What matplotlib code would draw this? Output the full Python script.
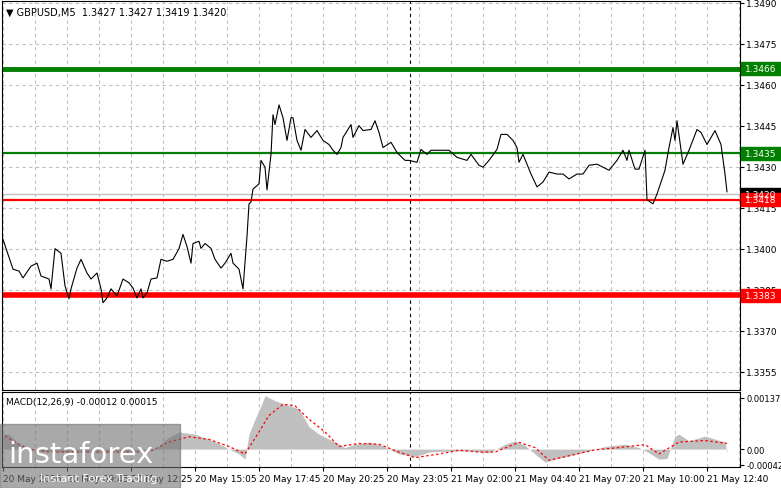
import matplotlib
matplotlib.use("Agg")
import matplotlib.pyplot as plt
from matplotlib.patches import Rectangle

# price line (bar index, close)
bars = [0, 2, 5, 8, 10, 14, 17, 19, 23, 24, 26, 29, 31, 33, 34, 37, 39, 42, 44, 47,
        49, 50, 52, 54, 57, 60, 63, 65, 67, 69, 70, 72, 74, 77, 79, 82, 85, 88, 90, 92,
        94, 95, 98, 99, 101, 104, 106, 109, 111, 114, 115, 118, 120, 122, 123, 124, 125, 128, 129, 131,
        132, 134, 135, 136, 138, 140, 142, 144, 145, 147, 149, 151, 154, 157, 160, 163, 165, 167, 169, 170,
        174, 175, 178, 180, 184, 186, 188, 190, 194, 197, 201, 203, 207, 209, 212, 214, 218, 223, 227, 232,
        234, 238, 240, 243, 247, 249, 252, 255, 257, 258, 260, 262, 264, 267, 270, 273, 277, 280, 283, 287,
        290, 293, 297, 300, 303, 307, 310, 312, 313, 316, 318, 321, 322, 325, 327, 331, 333, 335, 336, 337,
        340, 343, 347, 349, 352, 356, 359, 361, 362]
prices = [1.34035, 1.33991, 1.33926, 1.33919, 1.33894, 1.33937, 1.33948, 1.33901, 1.33890, 1.33854,
          1.34001, 1.33984, 1.33865, 1.33818, 1.33854, 1.33930, 1.33962, 1.33912, 1.33890, 1.33912,
          1.33854, 1.33803, 1.33821, 1.33854, 1.33828, 1.33890, 1.33876, 1.33857, 1.33821, 1.33854,
          1.33821, 1.33839, 1.33890, 1.33894, 1.33962, 1.33955, 1.33962, 1.34001, 1.34053, 1.34009,
          1.33948, 1.34020, 1.34028, 1.34002, 1.34020, 1.34002, 1.33962, 1.33930, 1.33948, 1.33984,
          1.33948, 1.33926, 1.33854, 1.34046, 1.34165, 1.34172, 1.34219, 1.34238, 1.34324, 1.34299,
          1.34216, 1.34346, 1.34491, 1.34455, 1.34527, 1.34480, 1.34397, 1.34480, 1.34480, 1.34397,
          1.34361, 1.34437, 1.34408, 1.34433, 1.34397, 1.34382, 1.34361, 1.34346, 1.34371, 1.34408,
          1.34455, 1.34408, 1.34451, 1.34433, 1.34437, 1.34469, 1.34426, 1.34371, 1.34390, 1.34353,
          1.34324, 1.34324, 1.34317, 1.34364, 1.34346, 1.34361, 1.34361, 1.34361, 1.34335, 1.34324,
          1.34346, 1.34306, 1.34299, 1.34324, 1.34364, 1.34419, 1.34419, 1.34397, 1.34371, 1.34317,
          1.34346, 1.34310, 1.34274, 1.34227, 1.34245, 1.34281, 1.34274, 1.34274, 1.34256, 1.34274,
          1.34274, 1.34306, 1.34310, 1.34299, 1.34288, 1.34324, 1.34361, 1.34324, 1.34361, 1.34292,
          1.34292, 1.34361, 1.34180, 1.34165, 1.34201, 1.34288, 1.34371, 1.34444, 1.34397, 1.34469,
          1.34310, 1.34361, 1.34437, 1.34426, 1.34382, 1.34433, 1.34382, 1.34274, 1.34209]

levels = [1.3466, 1.3435, 1.3418, 1.3383]
level_colors = ["#007f00", "#007f00", "#ff0000", "#ff0000"]
level_widths = [3.5, 1.6, 1.6, 4]
current_price = 1.3420

price_ticks = [1.3490, 1.3475, 1.3460, 1.3445, 1.3430, 1.3415, 1.3400, 1.3385, 1.3370, 1.3355]

hist_bars = [0, 3, 8, 13, 18, 38, 58, 76, 81, 88, 96, 106, 113, 118, 121, 123, 126, 129, 131, 136,
             141, 148, 153, 158, 166, 171, 176, 183, 188, 193, 198, 206, 213, 223, 233, 243, 251, 256, 261, 266,
             271, 276, 283, 293, 301, 311, 318, 323, 328, 332, 336, 338, 343, 351, 359, 361, 362]
hist_vals = [0.0004, 0.0004, 0.00013, 0.0, -0.00006, -0.00008, -0.00008, -0.00003, 0.00025, 0.00046,
             0.0004, 0.0002, 0.0, -0.00013, -0.00027, 0.0004, 0.0008, 0.00116, 0.00143, 0.0013,
             0.0012, 0.00108, 0.0006, 0.0004, 0.00019, 0.00004, 0.00013, 0.00019, 0.00013, 0.0,
             -0.00013, -0.0002, -0.00008, -0.00005, -0.00005, -0.0001, 0.00013, 0.00022, 0.0001, -0.00013,
             -0.00035, -0.00027, -0.00018, -0.00005, 0.00007, 0.00013, 0.00004, -0.0001, -0.00027, -0.00025,
             0.00035, 0.0004, 0.00022, 0.00035, 0.00022, 0.0002, -0.00012]
sig_bars = [1, 8, 13, 23, 43, 68, 73, 83, 93, 103, 113, 121, 128, 133, 140, 146, 153, 161, 168, 178,
            188, 198, 206, 218, 228, 238, 246, 258, 266, 273, 283, 296, 308, 321, 328, 338, 351, 362]
sig_vals = [0.00035, 0.00013, 0.0, -0.00008, -0.00008, -0.00008, -0.00008, 0.00019, 0.00033, 0.00026,
            0.00007, -0.00013, 0.00046, 0.0009, 0.0012, 0.00116, 0.0008, 0.00046, 0.00007, 0.00015,
            0.00013, -0.00008, -0.00023, -0.00013, -0.00003, -0.00008, -0.00008, 0.00018, 0.00004, -0.0003,
            -0.00018, -0.00002, 0.00004, 0.00012, -0.00013, 0.00019, 0.00023, 0.00015]

time_ticks = [0, 32, 64, 96, 128, 160, 192, 224, 256, 288, 320, 352]
time_labels = ["20 May 2026", "20 May 09:45", "20 May 12:25", "20 May 15:05", "20 May 17:45",
               "20 May 20:25", "20 May 23:05", "21 May 02:00", "21 May 04:40", "21 May 07:20",
               "21 May 10:00", "21 May 12:40"]

W, H = 781, 489
fig = plt.figure(figsize=(W / 100, H / 100), dpi=100)
L, R = 2 / W, 740 / W
ax = fig.add_axes([L, 1 - 391 / H, R - L, 389 / H])
mx = fig.add_axes([L, 1 - 468 / H, R - L, 75 / H])

xmin, xmax = -0.5, 368.5
grid_kw = dict(color="#c0c0c0", linestyle=(0, (3, 3)), linewidth=0.8)
for a in (ax, mx):
    a.set_xlim(xmin, xmax)
    for b in range(0, 369, 16):
        a.axvline(b, zorder=0, **grid_kw)
    a.axvline(203.5, color="black", linestyle=(0, (3, 3)), linewidth=0.8, zorder=1)
    a.yaxis.tick_right()
    a.tick_params(axis="y", labelsize=6.5, length=3, pad=1.5)
    for s in a.spines.values():
        s.set_color("black")
        s.set_linewidth(0.8)

# main price panel
ax.set_ylim(1.33484, 1.34907)
for p in price_ticks:
    ax.axhline(p, zorder=0, **grid_kw)
ax.axhline(current_price, color="#c0c0c0", linewidth=1, zorder=1)
for lv, c, w in zip(levels, level_colors, level_widths):
    ax.axhline(lv, color=c, linewidth=w, zorder=2)
ax.plot(bars, prices, color="black", linewidth=0.8, zorder=3)
ax.set_yticks(price_ticks)
ax.set_yticklabels([f"{p:.4f}" for p in price_ticks])
ax.set_xticks([])
ax.text(0.006, 0.985, "▼ GBPUSD,M5  1.3427 1.3427 1.3419 1.3420", transform=ax.transAxes,
        fontsize=7, va="top", ha="left")

def tag(a, val, text, color):
    y = a.transData.transform((0, val))[1] / H
    fig.patches.append(Rectangle((741 / W, y - 6.5 / H), 40 / W, 13 / H, transform=fig.transFigure,
                                 color=color, zorder=5))
    fig.text(761 / W, y, text, color="white", fontsize=6.5, ha="center", va="center", zorder=6)

tag(ax, current_price, "1.3420", "black")
for lv, c in zip(levels, level_colors):
    tag(ax, lv, f"{lv:.4f}", c)

# MACD panel
mx.set_ylim(-0.00048, 0.00153)
mx.fill_between(hist_bars, hist_vals, 0, color="#c0c0c0", linewidth=0, zorder=2)
mx.plot(sig_bars, sig_vals, color="red", linestyle=(0, (2, 2)), linewidth=0.9, zorder=3)
mx.set_yticks([0.00137, 0.0, -0.00042])
mx.set_yticklabels(["0.00137", "0.00", "-0.00042"])
mx.tick_params(axis="y", labelsize=6)
mx.set_xticks(time_ticks)
mx.set_xticklabels(time_labels, ha="left")
mx.tick_params(axis="x", labelsize=6.5, length=3, pad=2)
mx.text(0.006, 0.93, "MACD(12,26,9) -0.00012 0.00015", transform=mx.transAxes,
        fontsize=6.5, va="top", ha="left")

# watermark
fig.patches.append(Rectangle((0, 0), 180 / W, 64 / H, transform=fig.transFigure,
                             color="#707070", alpha=0.6, zorder=10))
fig.text(8 / W, 34 / H, "instaforex", color="white", fontsize=21, ha="left", va="center", zorder=11)
fig.text(40 / W, 10 / H, "Instant Forex Trading", color="white", fontsize=8, ha="left", va="center",
         zorder=11)

fig.savefig("out.png", dpi=100)
